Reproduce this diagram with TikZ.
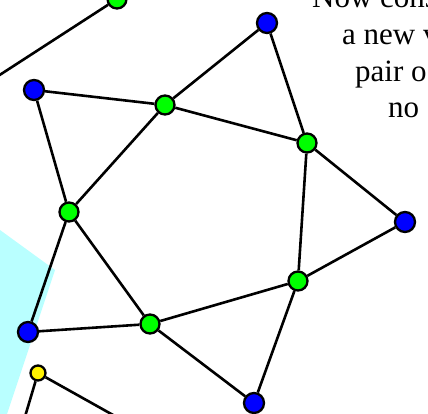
\documentclass[tikz,border=0pt]{standalone}
\usepackage{fontspec}
\setmainfont{Liberation Serif}
\definecolor{cyanfill}{RGB}{185,255,255}
\begin{document}
\begin{tikzpicture}[x=1pt,y=-1pt,
  vtx/.style={circle,draw=black,line width=2.3pt,inner sep=0pt,minimum size=19pt},
  bv/.style={vtx,fill=blue,minimum size=20pt},
  gv/.style={vtx,fill=green},
  yv/.style={vtx,fill=yellow,minimum size=15pt},
  edge/.style={draw=black,line width=2.6pt},
  txt/.style={anchor=base west,inner sep=0pt,font=\fontsize{31}{37}\selectfont}]
\clip (0,0) rectangle (428,414);
\fill[cyanfill] (0,230) -- (55,270) -- (7,414) -- (0,414) -- cycle;
\coordinate (off) at (-5,78);
\coordinate (y1) at (24,420);
\coordinate (y2) at (122,420);
\node[gv] (g0) at (117,-1) {};
\node[bv] (bt) at (267,23) {};
\node[bv] (btl) at (34,90) {};
\node[gv] (g1) at (165,105) {};
\node[gv] (g2) at (307,143) {};
\node[bv] (br) at (405,222) {};
\node[gv] (gl) at (69,212) {};
\node[gv] (g3) at (298,281) {};
\node[gv] (g4) at (150,324) {};
\node[bv] (bbl) at (28,332) {};
\node[bv] (bb) at (254,403) {};
\node[yv] (y) at (38,373) {};
\draw[edge] (g0) -- (off);
\draw[edge] (btl) -- (g1);
\draw[edge] (btl) -- (gl);
\draw[edge] (g1) -- (bt);
\draw[edge] (g1) -- (g2);
\draw[edge] (g1) -- (gl);
\draw[edge] (bt) -- (g2);
\draw[edge] (g2) -- (br);
\draw[edge] (g2) -- (g3);
\draw[edge] (br) -- (g3);
\draw[edge] (g3) -- (g4);
\draw[edge] (g3) -- (bb);
\draw[edge] (gl) -- (g4);
\draw[edge] (gl) -- (bbl);
\draw[edge] (bbl) -- (g4);
\draw[edge] (g4) -- (bb);
\draw[edge] (y) -- (y1);
\draw[edge] (y) -- (y2);
\node[txt] (t1) at (312,8) {Now cons};
\node[txt] (t2) at (342,45) {a new v};
\node[txt] (t3) at (355,82) {pair o};
\node[txt] (t4) at (388,118) {no};
\end{tikzpicture}
\end{document}
